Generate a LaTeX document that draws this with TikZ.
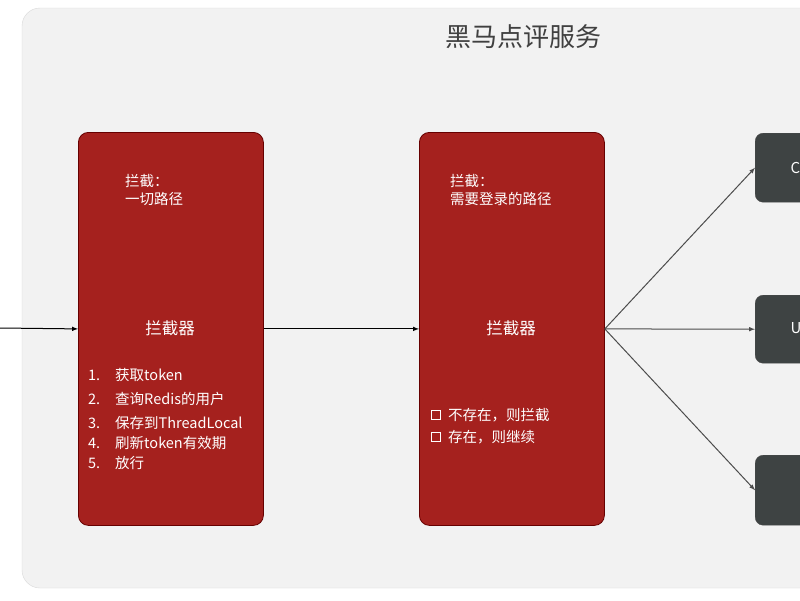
\documentclass[tikz,border=0pt]{standalone}
\usepackage{fontspec}
\setmainfont{Noto Sans CJK SC}
\begin{document}
\begin{tikzpicture}[x=1pt,y=-1pt,
  red/.style={draw=red!40!black,fill={rgb,255:red,165;green,33;blue,30},rounded corners=10pt,line width=0.8pt},
  dark/.style={draw=black!70,fill={rgb,255:red,62;green,67;blue,67},rounded corners=8pt},
  wt/.style={text=white,font=\fontsize{14.5}{16}\selectfont,inner sep=0pt},
  arr/.style={-latex,draw=black!70,line width=1pt}]
\useasboundingbox (0,0) rectangle (800,600);
\fill[white] (0,0) rectangle (800,600);
\begin{scope}
\clip (0,0) rectangle (800,600);
\draw[fill={rgb,255:red,242;green,242;blue,242},draw=black!15,rounded corners=18pt] (22,8) rectangle (840,588);
\node[font=\fontsize{26}{28}\selectfont,text=black!75] (title) at (523,37) {黑马点评服务};
\node[dark,minimum width=100pt,minimum height=69pt,anchor=north west] (c) at (755,133) {};
\node[dark,minimum width=100pt,minimum height=68pt,anchor=north west] (u) at (755,295) {};
\node[dark,minimum width=100pt,minimum height=70pt,anchor=north west] (o) at (755,455) {};
\node[text=white,font=\fontsize{15}{17}\selectfont,anchor=west] (ct) at (787,168) {C};
\node[text=white,font=\fontsize{15}{17}\selectfont,anchor=west] (ut) at (787,328) {U};
\end{scope}
\node[red,minimum width=185pt,minimum height=393pt,anchor=north west] (b1) at (78,132) {};
\node[red,minimum width=185pt,minimum height=393pt,anchor=north west] (b2) at (419,132) {};
\node[wt,anchor=west,align=left] (t1) at (125,190) {拦截：\\[2pt]一切路径};
\node[wt,font=\fontsize{16.5}{18}\selectfont] (i1) at (170,328) {拦截器};
\node[wt,anchor=west] (n1) at (88,375) {1.};
\node[wt,anchor=west] (l1) at (115,375) {获取token};
\node[wt,anchor=west] (n2) at (88,399) {2.};
\node[wt,anchor=west] (l2) at (115,399) {查询Redis的用户};
\node[wt,anchor=west] (n3) at (88,423) {3.};
\node[wt,anchor=west] (l3) at (115,423) {保存到ThreadLocal};
\node[wt,anchor=west] (n4) at (88,443) {4.};
\node[wt,anchor=west] (l4) at (115,443) {刷新token有效期};
\node[wt,anchor=west] (n5) at (88,463) {5.};
\node[wt,anchor=west] (l5) at (115,463) {放行};
\node[wt,anchor=west,align=left] (t2) at (450,190) {拦截：\\[2pt]需要登录的路径};
\node[wt,font=\fontsize{16.5}{18}\selectfont] (i2) at (511,328) {拦截器};
\node[draw=white,line width=1.4pt,minimum size=9pt,inner sep=0pt] (k1) at (436,415) {};
\node[wt,anchor=west] (m1) at (448,415) {不存在，则拦截};
\node[draw=white,line width=1.4pt,minimum size=9pt,inner sep=0pt] (k2) at (436,437) {};
\node[wt,anchor=west] (m2) at (448,437) {存在，则继续};
\coordinate (in) at (0,328);
\draw[arr,draw=black] (in) -- (b1.west);
\draw[arr,draw=black] (b1.east) -- (b2.west);
\draw[arr] (b2.east) -- (c.west);
\draw[arr] (b2.east) -- (u.west);
\draw[arr] (b2.east) -- (o.west);
\end{tikzpicture}
\end{document}
